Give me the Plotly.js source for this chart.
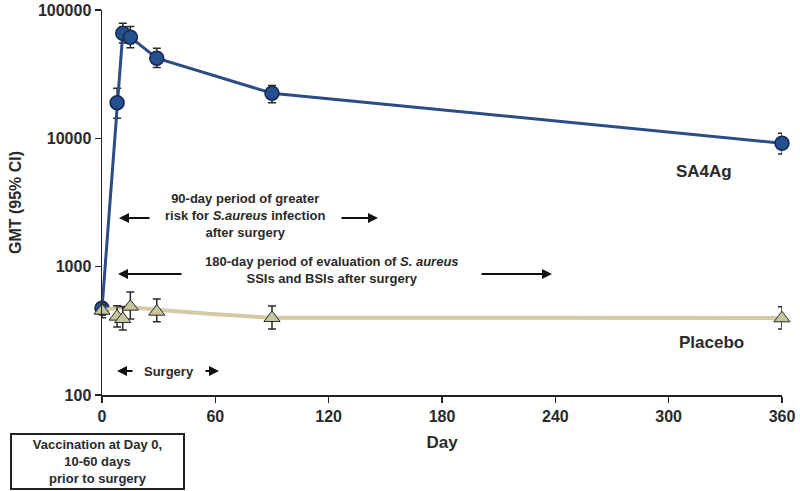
<!DOCTYPE html>
<html>
<head>
<meta charset="utf-8">
<script src="https://cdn.plot.ly/plotly-3.0.1.min.js"></script>
<style>
html,body{margin:0;padding:0;background:#fff;}
#chart{width:800px;height:491px;}
</style>
</head>
<body>
<div id="chart"></div>
<script>
// ---- data ----
var days = [0, 8, 11, 15, 29, 90, 360];
var sa4agGMT   = [474, 18970, 65900, 61400, 42100, 22480, 9160];
var sa4agUpper = [530, 24560, 78900, 74300, 50400, 25760, 10960];
var sa4agLower = [420, 14350, 55400, 50900, 35600, 18970, 7550];

var placeboGMT   = [454, 408, 391, 488, 446, 398, 396];
var placeboUpper = [510, 497, 488, 635, 560, 494, 488];
var placeboLower = [400, 339, 321, 391, 373, 327, 327];

var placeboTrendDays = [0, 8, 15, 29, 60, 90, 360];
var placeboTrendGMT  = [455, 478, 485, 462, 425, 400, 398];

var xTickVals = [0, 60, 120, 180, 240, 300, 360];
var yTickVals = [100, 1000, 10000, 100000];
var yTickText = ['100', '1000', '10000', '100000'];

// ---- layout helpers ----
var M = {l: 102, r: 18, t: 10, b: 96};
var W = 800, H = 491;
var PW = W - M.l - M.r, PH = H - M.t - M.b;
function px(x) { return (x - M.l) / PW; }
function py(y) { return (H - M.b - y) / PH; }

function diff(a, b) { return a.map(function (v, i) { return v - b[i]; }); }

var FONT = 'Liberation Sans, Arial, sans-serif';
var txtColor = '#2a2a2a';

var traces = [
  {
    x: days, y: sa4agGMT, type: 'scatter', mode: 'lines+markers',
    line: {color: '#2b4c84', width: 3},
    marker: {symbol: 'circle', size: 14, color: '#24508f', line: {color: '#16294a', width: 1.5}},
    error_y: {type: 'data', symmetric: false, array: diff(sa4agUpper, sa4agGMT), arrayminus: diff(sa4agGMT, sa4agLower),
              color: '#2a2a2a', thickness: 1.5, width: 4},
    cliponaxis: false, hoverinfo: 'none', name: 'SA4Ag'
  },
  {
    x: placeboTrendDays, y: placeboTrendGMT, type: 'scatter', mode: 'lines',
    line: {color: '#d4caa8', width: 4, shape: 'linear'},
    hoverinfo: 'none', name: 'Placebo trend'
  },
  {
    x: days, y: placeboGMT, type: 'scatter', mode: 'markers',
    marker: {symbol: 'triangle-up', size: 14, color: '#c8c69c', line: {color: '#2a2a2a', width: 1}},
    error_y: {type: 'data', symmetric: false, array: diff(placeboUpper, placeboGMT), arrayminus: diff(placeboGMT, placeboLower),
              color: '#2a2a2a', thickness: 1.5, width: 4},
    cliponaxis: false, hoverinfo: 'none', name: 'Placebo'
  }
];

function arrow(hx, hy, tx, ty) {
  return {xref: 'paper', yref: 'paper', x: px(hx), y: py(hy), axref: 'pixel', ayref: 'pixel',
          ax: tx - hx, ay: ty - hy, text: '', showarrow: true, arrowhead: 2, arrowsize: 1,
          arrowwidth: 2, arrowcolor: '#111'};
}
function label(x, y, text, size) {
  return {xref: 'paper', yref: 'paper', x: px(x), y: py(y), xanchor: 'center', yanchor: 'middle',
          text: text, showarrow: false, font: {family: FONT, size: size, color: txtColor, weight: 'bold'}};
}

var annotations = [
  label(245, 216, '<b>90-day period of greater<br>risk for <i>S.aureus</i> infection<br>after surgery</b>', 13),
  arrow(119, 218, 151, 218),
  arrow(378, 218, 340, 218),
  label(332, 270, '<b>180-day period of evaluation of <i>S. aureus</i><br>SSIs and BSIs after surgery</b>', 13),
  arrow(118, 274, 183, 274),
  arrow(552, 274, 480, 274),
  label(169, 371, '<b>Surgery</b>', 13),
  arrow(117, 371, 134, 371),
  arrow(219, 371, 204, 371),
  label(704, 171, '<b>SA4Ag</b>', 17),
  label(711, 342, '<b>Placebo</b>', 17),
  {xref: 'paper', yref: 'paper', x: px(97.5), y: py(461), xanchor: 'center', yanchor: 'middle',
   text: '<b>Vaccination at Day 0,<br>10-60 days<br>prior to surgery</b>', showarrow: false,
   width: 169, height: 51, borderpad: 1, borderwidth: 2, bordercolor: '#222', bgcolor: '#fff',
   font: {family: FONT, size: 13, color: txtColor}}
];

var layout = {
  width: W, height: H, margin: M, paper_bgcolor: '#fff', plot_bgcolor: '#fff',
  showlegend: false,
  font: {family: FONT, color: txtColor},
  xaxis: {
    range: [0, 360], tickvals: xTickVals, ticks: 'outside', ticklen: 6, tickwidth: 1.5, tickcolor: '#222',
    showline: true, linecolor: '#222', linewidth: 1.5, showgrid: false, zeroline: false,
    tickfont: {family: FONT, size: 16, color: txtColor, weight: 'bold'},
    title: {text: 'Day', font: {family: FONT, size: 17, color: txtColor, weight: 'bold'}, standoff: 12}
  },
  yaxis: {
    type: 'log', range: [2, 5], tickvals: yTickVals, ticktext: yTickText, ticks: 'outside', ticklen: 6,
    tickwidth: 1.5, tickcolor: '#222',
    showline: true, linecolor: '#222', linewidth: 1.5, showgrid: false, zeroline: false,
    tickfont: {family: FONT, size: 16, color: txtColor, weight: 'bold'},
    title: {text: 'GMT (95% CI)', font: {family: FONT, size: 16, color: txtColor, weight: 'bold'}, standoff: 12}
  },
  annotations: annotations
};

Plotly.newPlot('chart', traces, layout, {displayModeBar: false, staticPlot: true});
</script>
</body>
</html>
